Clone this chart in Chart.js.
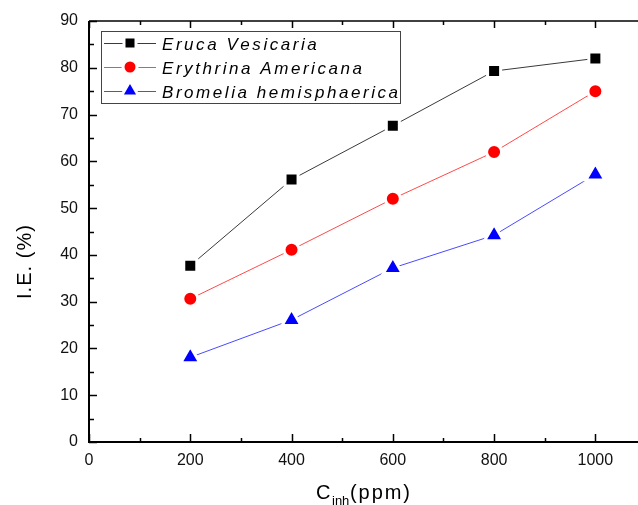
<!DOCTYPE html>
<html><head><meta charset="utf-8">
<script src="https://cdn.jsdelivr.net/npm/chart.js@4/dist/chart.umd.min.js"></script>
<style>html,body{margin:0;padding:0;background:#fff;overflow:hidden;width:638px;height:505px}#wrap{width:660px;height:505px}</style>
</head><body><div id="wrap"><canvas id="c" width="660" height="505"></canvas></div>
<script>
const concentrations = [200, 400, 600, 800, 1000];
const erucaVesicaria = [37.7, 56.1, 67.6, 79.3, 82.0];
const erythrinaAmericana = [30.6, 41.1, 52.0, 62.0, 75.0];
const bromeliaHemisphaerica = [18.1, 26.1, 37.2, 44.2, 57.2];
const seriesNames = ['Eruca Vesicaria', 'Erythrina Americana', 'Bromelia hemisphaerica'];
const xTickValues = [0, 200, 400, 600, 800, 1000];
const xMinorTicks = [100, 300, 500, 700, 900];
const yTickValues = [0, 10, 20, 30, 40, 50, 60, 70, 80, 90];
const yMinorTicks = [5, 15, 25, 35, 45, 55, 65, 75, 85];

const FONT = '"Liberation Sans", Arial, sans-serif';
const styles = [
  {line: '#3a3a3a', point: '#000000', shape: 'rect', r: 9.2, lr: 8.5},
  {line: '#ff4a4a', point: '#ff0000', shape: 'circle', r: 7.5, lr: 7},
  {line: '#4a4aff', point: '#0000ff', shape: 'triangle', r: 11, lr: 10}
];
const values = [erucaVesicaria, erythrinaAmericana, bromeliaHemisphaerica];

const datasets = values.map((vals, i) => ({
  label: seriesNames[i],
  data: concentrations.map((x, j) => ({x: x, y: vals[j]})),
  borderColor: styles[i].line,
  borderWidth: 1,
  backgroundColor: styles[i].point,
  pointStyle: styles[i].shape,
  pointRadius: styles[i].r,
  pointBorderColor: '#ffffff',
  pointBorderWidth: 3,
  pointBackgroundColor: styles[i].point,
  tension: 0
}));

function marker(ctx, shape, r, x, y) {
  ctx.beginPath();
  if (shape === 'rect') {
    const s = r * Math.SQRT1_2;
    ctx.rect(x - s, y - s, 2 * s, 2 * s);
  } else if (shape === 'circle') {
    ctx.arc(x, y, r, 0, Math.PI * 2);
  } else {
    let a = 0;
    ctx.moveTo(x + Math.sin(a) * r, y - Math.cos(a) * r);
    a += 2 * Math.PI / 3;
    ctx.lineTo(x + Math.sin(a) * r, y - Math.cos(a) * r);
    a += 2 * Math.PI / 3;
    ctx.lineTo(x + Math.sin(a) * r, y - Math.cos(a) * r);
    ctx.closePath();
  }
  ctx.fill();
  ctx.stroke();
}

function spaced(ctx, text, x, y, width) {
  const w = ctx.measureText(text).width;
  const sp = text.length > 1 ? (width - w) / (text.length - 1) : 0;
  return spacedWith(ctx, text, x, y, sp) - sp;
}
function spacedWith(ctx, text, x, y, sp) {
  let tx = x;
  for (const ch of text) {
    ctx.fillText(ch, tx, y);
    tx += ctx.measureText(ch).width + sp;
  }
  return tx;
}

const framePlugin = {
  id: 'frame',
  afterDraw(chart) {
    const ctx = chart.ctx;
    const a = chart.chartArea;
    const xs = chart.scales.x, ys = chart.scales.y;
    ctx.save();
    ctx.strokeStyle = '#000';
    ctx.lineWidth = 2;
    ctx.beginPath();
    ctx.moveTo(a.left, a.top); ctx.lineTo(a.left, a.bottom); ctx.lineTo(a.right, a.bottom);
    ctx.stroke();
    ctx.lineWidth = 1.5;
    ctx.beginPath();
    ctx.moveTo(a.left, a.top); ctx.lineTo(a.right, a.top);
    ctx.stroke();
    ctx.lineWidth = 1.5;
    ctx.beginPath();
    xTickValues.forEach(v => { const p = Math.round(xs.getPixelForValue(v)) + 0.5;
      ctx.moveTo(p, a.bottom); ctx.lineTo(p, a.bottom - 8);
      ctx.moveTo(p, a.top); ctx.lineTo(p, a.top + 7); });
    xMinorTicks.forEach(v => { const p = Math.round(xs.getPixelForValue(v)) + 0.5;
      ctx.moveTo(p, a.bottom); ctx.lineTo(p, a.bottom - 4);
      ctx.moveTo(p, a.top); ctx.lineTo(p, a.top + 4); });
    yTickValues.forEach(v => { const p = Math.round(ys.getPixelForValue(v)) + 0.5;
      ctx.moveTo(a.left, p); ctx.lineTo(a.left + 8, p); });
    yMinorTicks.forEach(v => { const p = Math.round(ys.getPixelForValue(v)) + 0.5;
      ctx.moveTo(a.left, p); ctx.lineTo(a.left + 5, p); });
    ctx.stroke();

    // legend
    const lx = 101.5, ly = 31.5, lw = 299, lh = 72;
    ctx.lineWidth = 1;
    ctx.strokeStyle = '#444';
    ctx.strokeRect(lx, ly, lw, lh);
    const rows = [43, 67, 91];
    ctx.font = 'italic 17px ' + FONT;
    ctx.textBaseline = 'alphabetic';
    ctx.textAlign = 'left';
    const longest = ctx.measureText(seriesNames[2]).width;
    const spacing = (236 - longest) / (seriesNames[2].length - 1);
    seriesNames.forEach((name, i) => {
      const y = rows[i];
      ctx.strokeStyle = styles[i].line;
      ctx.lineWidth = 1;
      ctx.beginPath(); ctx.moveTo(104, y + 0.5); ctx.lineTo(156, y + 0.5); ctx.stroke();
      ctx.fillStyle = styles[i].point; ctx.strokeStyle = '#fff'; ctx.lineWidth = 3;
      marker(ctx, styles[i].shape, styles[i].lr, 130, y);
      ctx.fillStyle = '#000';
      spacedWith(ctx, name, 162, y + 7, spacing);
    });

    // y title
    ctx.save();
    ctx.translate(31, 262);
    ctx.rotate(-Math.PI / 2);
    ctx.font = '20px ' + FONT;
    ctx.fillStyle = '#000';
    ctx.textAlign = 'left';
    ctx.textBaseline = 'alphabetic';
    spaced(ctx, 'I.E. (%)', -37, 0, 74);
    ctx.restore();

    // x title with subscript
    ctx.fillStyle = '#000';
    ctx.textBaseline = 'alphabetic';
    ctx.textAlign = 'left';
    ctx.font = '20px ' + FONT;
    ctx.fillText('C', 316, 499);
    ctx.font = '13px ' + FONT;
    ctx.fillText('inh', 332, 505);
    ctx.font = '20px ' + FONT;
    spaced(ctx, '(ppm)', 350, 499, 60);
    ctx.restore();
  }
};

new Chart(document.getElementById('c'), {
  type: 'line',
  data: {datasets: datasets},
  plugins: [framePlugin],
  options: {
    responsive: false,
    animation: false,
    events: [],
    layout: {padding: {top: 21, right: 14, left: 0, bottom: 0}},
    plugins: {legend: {display: false}, tooltip: {enabled: false}},
    scales: {
      x: {
        type: 'linear', min: 0, max: 1100,
        afterBuildTicks: s => { s.ticks = xTickValues.map(v => ({value: v})); },
        afterFit: s => { s.height = 63; },
        grid: {display: false, drawTicks: false},
        border: {display: false},
        ticks: {font: {family: FONT, size: 16}, color: '#111', padding: 9, maxRotation: 0,
                callback: v => String(v)}
      },
      y: {
        type: 'linear', min: 0, max: 90,
        afterBuildTicks: s => { s.ticks = yTickValues.map(v => ({value: v})); },
        afterFit: s => { s.width = 89; },
        grid: {display: false, drawTicks: false},
        border: {display: false},
        ticks: {font: {family: FONT, size: 16}, color: '#111', padding: 11, callback: v => String(v)}
      }
    }
  }
});
</script>
</body></html>
